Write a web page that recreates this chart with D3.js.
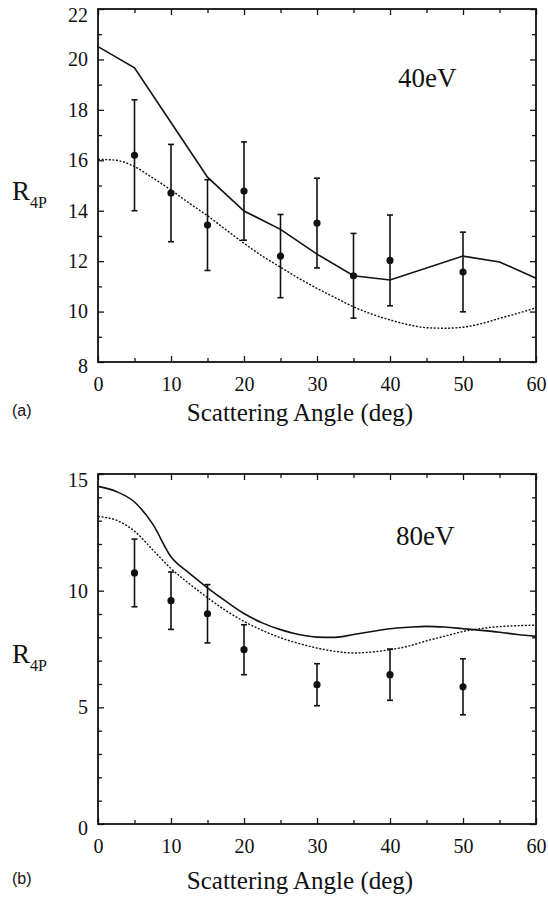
<!DOCTYPE html>
<html>
<head>
<meta charset="utf-8">
<script src="https://cdn.jsdelivr.net/npm/d3@7"></script>
<style>
  body { margin: 0; background: #fff; }
  svg text { fill: #111; }
</style>
</head>
<body>
<svg id="chart" width="548" height="904"></svg>
<script>
// panel (a) 40eV
const angles40 = [5, 10, 15, 20, 25, 30, 35, 40, 50];
const r40 = [16.2, 14.7, 13.43, 14.78, 12.2, 13.51, 11.42, 12.03, 11.57];
const err40 = [2.2, 1.93, 1.8, 1.95, 1.65, 1.78, 1.68, 1.8, 1.58];
const solidX40 = [0, 5, 10, 15, 20, 25, 30, 35, 40, 50, 55, 60];
const solidY40 = [20.51, 19.67, 17.5, 15.33, 13.99, 13.26, 12.28, 11.42, 11.25, 12.2, 11.97, 11.32];
const dotX40 = [0, 2.5, 5, 7.5, 10, 12.5, 15, 17.5, 20, 22.5, 25, 27.5, 30, 32.5, 35, 37.5, 40, 42.5, 45, 47.5, 50, 52.5, 55, 57.5, 60];
const dotY40 = [16.04, 16.0, 15.75, 15.3, 14.82, 14.3, 13.8, 13.25, 12.71, 12.2, 11.76, 11.32, 10.92, 10.55, 10.19, 9.9, 9.67, 9.48, 9.36, 9.34, 9.38, 9.52, 9.73, 9.93, 10.15];

// panel (b) 80eV
const angles80 = [5, 10, 15, 20, 30, 40, 50];
const r80 = [10.76, 9.57, 9.01, 7.47, 5.97, 6.4, 5.88];
const err80 = [1.45, 1.23, 1.25, 1.07, 0.9, 1.1, 1.2];
const curveX80 = [0, 2.5, 5, 7.5, 10, 12.5, 15, 17.5, 20, 22.5, 25, 27.5, 30, 32.5, 35, 37.5, 40, 42.5, 45, 47.5, 50, 52.5, 55, 57.5, 60];
const solidY80 = [14.47, 14.25, 13.8, 12.85, 11.45, 10.75, 10.12, 9.55, 9.02, 8.62, 8.33, 8.12, 8.01, 8.0, 8.12, 8.25, 8.37, 8.43, 8.47, 8.44, 8.37, 8.3, 8.22, 8.12, 8.04];
const dotY80 = [13.18, 13.02, 12.55, 11.75, 10.95, 10.3, 9.7, 9.15, 8.68, 8.3, 7.98, 7.74, 7.54, 7.4, 7.33, 7.37, 7.47, 7.62, 7.85, 8.05, 8.25, 8.38, 8.46, 8.5, 8.52];

const xTicks = [0, 10, 20, 30, 40, 50, 60];
const xMinor = [5, 15, 25, 35, 45, 55];

const serif = '"Liberation Serif", "Times New Roman", serif';
const sans = '"Liberation Sans", Arial, sans-serif';

const svg = d3.select('#chart');

function panel(opt) {
  const x = d3.scaleLinear().domain([0, 60]).range([98, 536]);
  const y = d3.scaleLinear().domain(opt.yDomain).range([opt.bottom, opt.top]);
  const g = svg.append('g');

  const axes = [
    [d3.axisBottom(x).tickValues(xTicks).tickSize(-6).tickPadding(15), opt.bottom, 0, true],
    [d3.axisBottom(x).tickValues(xMinor).tickSize(-4).tickFormat(''), opt.bottom, 0, false],
    [d3.axisTop(x).tickValues(xTicks).tickSize(-6).tickFormat(''), opt.top, 0, false],
    [d3.axisTop(x).tickValues(xMinor).tickSize(-4).tickFormat(''), opt.top, 0, false],
    [d3.axisLeft(y).tickValues(opt.yTicks).tickSize(-6).tickPadding(10), 0, 98, true],
    [d3.axisLeft(y).tickValues(opt.yMinor).tickSize(-4).tickFormat(''), 0, 98, false],
    [d3.axisRight(y).tickValues(opt.yTicks).tickSize(-6).tickFormat(''), 0, 536, false],
    [d3.axisRight(y).tickValues(opt.yMinor).tickSize(-4).tickFormat(''), 0, 536, false]
  ];
  axes.forEach(([ax, ty, tx, labels]) => {
    const a = g.append('g').attr('transform', `translate(${tx},${ty})`).call(ax);
    a.select('.domain').remove();
    a.selectAll('line').attr('stroke', '#111').attr('stroke-width', 1.3);
    if (labels) a.selectAll('text').style('font-size', '20px').style('font-family', serif).attr('fill', '#111');
  });

  // endpoint labels on the y axis sit a little lower, as in the print
  const yLo = opt.yTicks[0], yHi = opt.yTicks[opt.yTicks.length - 1];
  g.selectAll('text').filter(function (d) { return d === yHi && this.getAttribute('x') !== null && +this.getAttribute('x') < 0; })
    .attr('dy', '0.32em').attr('transform', 'translate(0,6)');
  g.selectAll('text').filter(function (d) { return d === yLo && this.getAttribute('x') !== null && +this.getAttribute('x') < 0; })
    .attr('transform', 'translate(0,4)');

  g.append('rect')
    .attr('x', 98).attr('y', opt.top)
    .attr('width', 438).attr('height', opt.bottom - opt.top)
    .attr('fill', 'none').attr('stroke', '#111').attr('stroke-width', 1.8);

  // model curves
  g.append('path')
    .datum(opt.solidX.map((d, i) => [d, opt.solidY[i]]))
    .attr('fill', 'none').attr('stroke', '#111').attr('stroke-width', 1.6)
    .attr('d', d3.line().x(d => x(d[0])).y(d => y(d[1])).curve(opt.solidCurve));

  g.append('path')
    .datum(opt.dotX.map((d, i) => [d, opt.dotY[i]]))
    .attr('fill', 'none').attr('stroke', '#111').attr('stroke-width', 1.4)
    .attr('stroke-dasharray', '2,1.6')
    .attr('d', d3.line().x(d => x(d[0])).y(d => y(d[1])).curve(d3.curveMonotoneX));

  // measured points
  const pts = opt.ang.map((a, i) => ({ a, v: opt.val[i], e: opt.err[i] }));
  const pg = g.append('g').selectAll('g').data(pts).enter().append('g');
  pg.append('line')
    .attr('x1', d => x(d.a)).attr('x2', d => x(d.a))
    .attr('y1', d => y(d.v - d.e)).attr('y2', d => y(d.v + d.e))
    .attr('stroke', '#111').attr('stroke-width', 1.6);
  [-1, 1].forEach(s => {
    pg.append('line')
      .attr('x1', d => x(d.a) - 3).attr('x2', d => x(d.a) + 3)
      .attr('y1', d => y(d.v + s * d.e)).attr('y2', d => y(d.v + s * d.e))
      .attr('stroke', '#111').attr('stroke-width', 1.6);
  });
  pg.append('circle')
    .attr('cx', d => x(d.a)).attr('cy', d => y(d.v)).attr('r', 3.6)
    .attr('fill', '#111');

  g.append('text').attr('x', opt.labelX).attr('y', opt.labelY)
    .style('font-family', serif).style('font-size', '27px').text(opt.label);

  const yl = g.append('text').attr('x', 12).attr('y', opt.rY)
    .style('font-family', serif).style('font-size', '27px');
  yl.append('tspan').text('R');
  yl.append('tspan').style('font-size', '16px').attr('dy', 8).text('4P');

  g.append('text').attr('x', 300).attr('y', opt.titleY)
    .attr('text-anchor', 'middle')
    .style('font-family', serif).style('font-size', '25px')
    .text('Scattering Angle (deg)');

  g.append('text').attr('x', 12).attr('y', opt.titleY - 5)
    .style('font-family', sans).style('font-size', '16px')
    .text(opt.tag);
}

panel({
  top: 9, bottom: 362, yDomain: [8, 22],
  yTicks: d3.range(8, 23, 2), yMinor: d3.range(9, 22, 2),
  ang: angles40, val: r40, err: err40,
  solidX: solidX40, solidY: solidY40, solidCurve: d3.curveLinear,
  dotX: dotX40, dotY: dotY40,
  label: '40eV', labelX: 398, labelY: 87,
  rY: 200, titleY: 421, tag: '(a)'
});

panel({
  top: 474, bottom: 824, yDomain: [0, 15],
  yTicks: [0, 5, 10, 15], yMinor: [1, 2, 3, 4, 6, 7, 8, 9, 11, 12, 13, 14],
  ang: angles80, val: r80, err: err80,
  solidX: curveX80, solidY: solidY80, solidCurve: d3.curveMonotoneX,
  dotX: curveX80, dotY: dotY80,
  label: '80eV', labelX: 396, labelY: 545,
  rY: 663, titleY: 889, tag: '(b)'
});
</script>
</body>
</html>
